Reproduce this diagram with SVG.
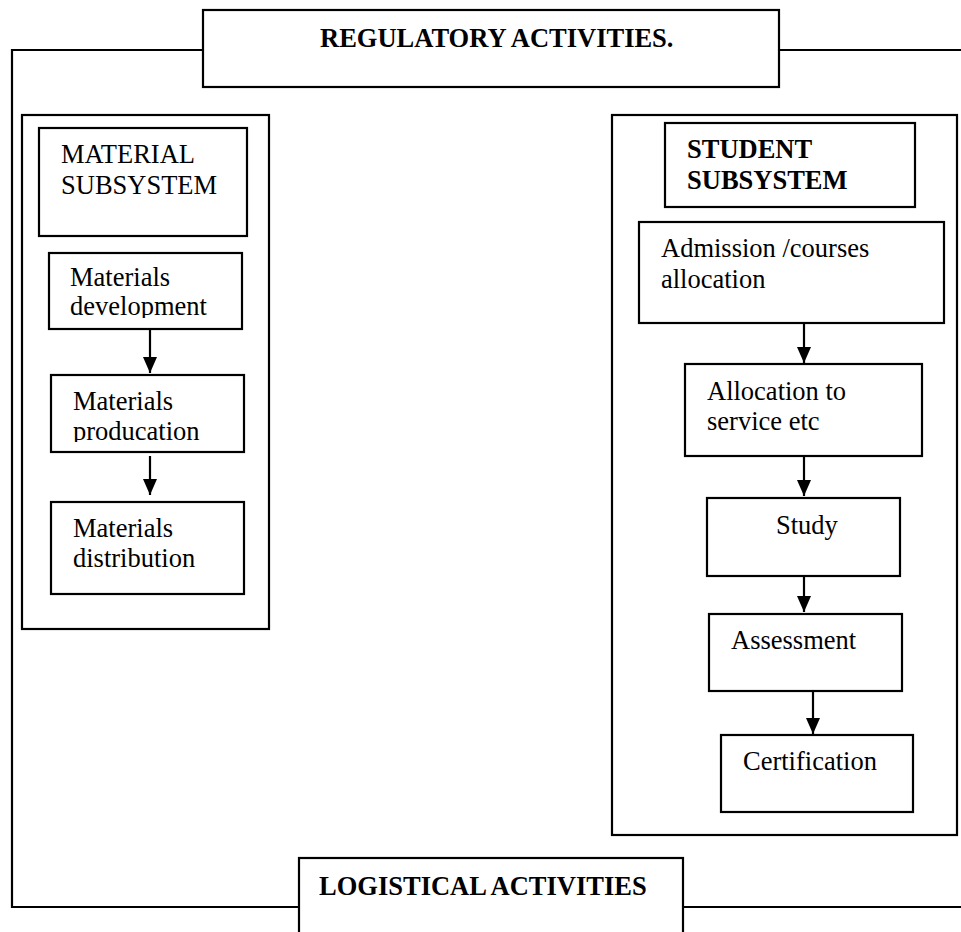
<svg xmlns="http://www.w3.org/2000/svg" width="961" height="932" viewBox="0 0 961 932">
<style>
.box{fill:#fff;stroke:#000;stroke-width:2.2}
.frame{fill:none;stroke:#000;stroke-width:2.2}
.t{font-family:"Liberation Serif","Times New Roman",serif;font-size:26.5px;fill:#000}
.b{font-weight:bold}
.conn{stroke:#000;stroke-width:2.2;fill:none}
</style>
<defs>
<marker id="ah" markerWidth="16" markerHeight="14" refX="16" refY="7" orient="auto" markerUnits="userSpaceOnUse" viewBox="0 0 16 14">
<path d="M0,0 L16,7 L0,14 Z" fill="#000"/>
</marker>
<clipPath id="c1"><rect x="40" y="250" width="210" height="68"/></clipPath>
<clipPath id="c2"><rect x="40" y="370" width="210" height="72"/></clipPath>
</defs>
<rect width="961" height="932" fill="#fff"/>
<g id="outer-frame">
<path class="frame" d="M203,50 H12 V907 H299"/>
<path class="frame" d="M779,50 H961"/>
<path class="frame" d="M683,907 H961"/>
</g>
<g id="regulatory">
<rect class="box" x="203" y="10" width="576" height="77"/>
<text class="t b" x="320" y="47">REGULATORY ACTIVITIES.</text>
</g>
<g id="logistical">
<rect class="box" x="299" y="858" width="384" height="90"/>
<text class="t b" x="319" y="895">LOGISTICAL ACTIVITIES</text>
</g>
<g id="material-group">
<rect class="box" x="22" y="115" width="247" height="514"/>
</g>
<g id="material-subsystem">
<rect class="box" x="39" y="128" width="208" height="108"/>
<text class="t" x="61" y="163">MATERIAL</text>
<text class="t" x="61" y="194">SUBSYSTEM</text>
</g>
<g id="materials-development">
<rect class="box" x="49" y="253" width="193" height="76"/>
<g clip-path="url(#c1)">
<text class="t" x="70" y="286">Materials</text>
<text class="t" x="70" y="315">development</text>
</g>
</g>
<g id="materials-producation">
<rect class="box" x="51" y="375" width="193" height="77"/>
<g clip-path="url(#c2)">
<text class="t" x="73" y="410">Materials</text>
<text class="t" x="73" y="440">producation</text>
</g>
</g>
<g id="materials-distribution">
<rect class="box" x="51" y="502" width="193" height="92"/>
<text class="t" x="73" y="537">Materials</text>
<text class="t" x="73" y="567">distribution</text>
</g>
<g id="student-group">
<rect class="box" x="612" y="115" width="345" height="720"/>
</g>
<g id="student-subsystem">
<rect class="box" x="665" y="123" width="250" height="84"/>
<text class="t b" x="687" y="158">STUDENT</text>
<text class="t b" x="687" y="189">SUBSYSTEM</text>
</g>
<g id="admission">
<rect class="box" x="639" y="222" width="305" height="101"/>
<text class="t" x="661" y="257">Admission /courses</text>
<text class="t" x="661" y="288">allocation</text>
</g>
<g id="allocation">
<rect class="box" x="685" y="364" width="237" height="92"/>
<text class="t" x="707" y="400">Allocation to</text>
<text class="t" x="707" y="430">service etc</text>
</g>
<g id="study">
<rect class="box" x="707" y="498" width="193" height="78"/>
<text class="t" x="776" y="534">Study</text>
</g>
<g id="assessment">
<rect class="box" x="709" y="614" width="193" height="77"/>
<text class="t" x="731" y="649">Assessment</text>
</g>
<g id="certification">
<rect class="box" x="721" y="735" width="192" height="77"/>
<text class="t" x="743" y="770">Certification</text>
</g>
<g id="connectors">
<line class="conn" x1="150" y1="329" x2="150" y2="373" marker-end="url(#ah)"/>
<line class="conn" x1="150" y1="456" x2="150" y2="495" marker-end="url(#ah)"/>
<line class="conn" x1="804" y1="323" x2="804" y2="363" marker-end="url(#ah)"/>
<line class="conn" x1="804" y1="456" x2="804" y2="496" marker-end="url(#ah)"/>
<line class="conn" x1="804" y1="576" x2="804" y2="612" marker-end="url(#ah)"/>
<line class="conn" x1="813" y1="691" x2="813" y2="734" marker-end="url(#ah)"/>
</g>
</svg>
